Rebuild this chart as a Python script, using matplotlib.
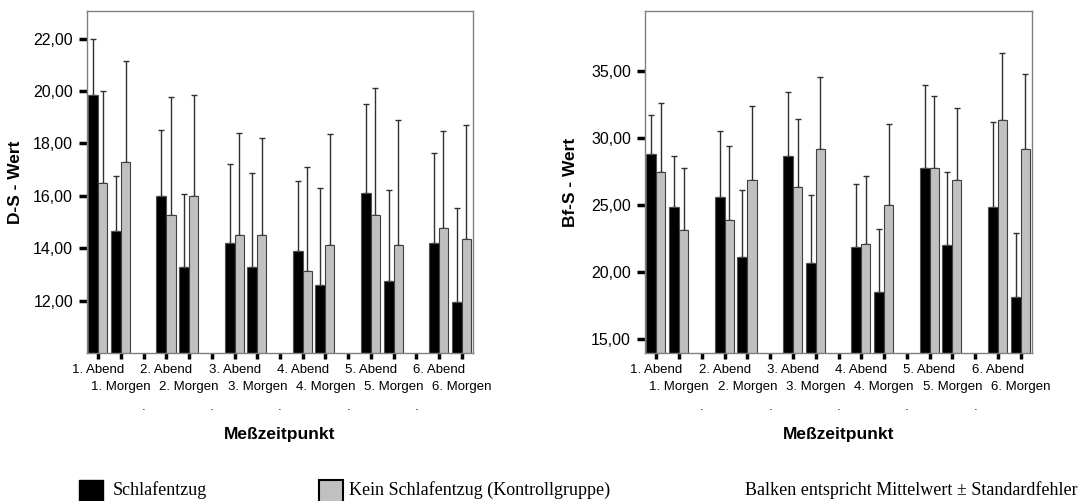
import matplotlib.pyplot as plt
from matplotlib.patches import Rectangle

# Meßzeitpunkte
zeitpunkte = ["1. Abend", "1. Morgen", "2. Abend", "2. Morgen", "3. Abend", "3. Morgen",
              "4. Abend", "4. Morgen", "5. Abend", "5. Morgen", "6. Abend", "6. Morgen"]

# D-S - Wert: Mittelwerte und Standardfehler
ds_schlaf = [19.85, 14.65, 16.0, 13.3, 14.2, 13.3, 13.88, 12.6, 16.12, 12.73, 14.2, 11.96]
ds_schlaf_se = [2.15, 2.12, 2.5, 2.78, 3.03, 3.58, 2.70, 3.70, 3.38, 3.50, 3.45, 3.58]
ds_kontroll = [16.5, 17.27, 15.27, 16.0, 14.5, 14.5, 13.12, 14.12, 15.27, 14.12, 14.77, 14.35]
ds_kontroll_se = [3.5, 3.88, 4.5, 3.85, 3.88, 3.69, 3.96, 4.23, 4.83, 4.76, 3.69, 4.34]

# Bf-S - Wert: Mittelwerte und Standardfehler
bfs_schlaf = [28.83, 24.85, 25.62, 21.14, 28.68, 20.7, 21.84, 18.48, 27.78, 22.0, 24.85, 18.13]
bfs_schlaf_se = [2.87, 3.83, 4.9, 4.96, 4.78, 5.05, 4.7, 4.75, 6.18, 5.49, 6.34, 4.76]
bfs_kontroll = [27.49, 23.13, 23.88, 26.87, 26.37, 29.18, 22.09, 25.0, 27.78, 26.87, 31.32, 29.18]
bfs_kontroll_se = [5.11, 4.65, 5.57, 5.52, 5.05, 5.39, 5.07, 6.04, 5.38, 5.42, 5.05, 5.6]

plt.rcParams['font.family'] = ['Liberation Sans', 'DejaVu Sans']

# nach jedem Tag (Abend + Morgen) eine leere Kategorie
pos = [(j // 2) * 3 + j % 2 for j in range(len(zeitpunkte))]
n_cat = pos[-1] + 1
leer = [k for k in range(n_cat) if k not in pos]

fig = plt.figure(figsize=(10.8, 5.01), dpi=100)
ax1 = fig.add_axes([87 / 1080, 148 / 501, 386 / 1080, 342 / 501])
ax2 = fig.add_axes([645 / 1080, 148 / 501, 387 / 1080, 342 / 501])


def balken(ax, schlaf, schlaf_se, kontroll, kontroll_se, ylim, yticks, ylabel, ylab_x):
    w = 0.44
    xs = [p - w / 2 for p in pos]
    xk = [p + w / 2 - 0.02 for p in pos]
    ax.errorbar(xs, schlaf, yerr=[[0] * len(schlaf), schlaf_se], fmt='none',
                ecolor='#303030', elinewidth=1, capsize=2.5, capthick=1, zorder=1)
    ax.errorbar(xk, kontroll, yerr=[[0] * len(kontroll), kontroll_se], fmt='none',
                ecolor='#303030', elinewidth=1, capsize=2.5, capthick=1, zorder=1)
    ax.bar(xs, schlaf, width=w, color='black', edgecolor='#505050', linewidth=0.8, zorder=2)
    ax.bar(xk, kontroll, width=w - 0.04, color='#c0c0c0', edgecolor='#404040',
           linewidth=0.8, zorder=2)

    ax.set_xlim(-0.5, n_cat - 0.5)
    ax.set_ylim(*ylim)
    ax.set_yticks(yticks)
    ax.set_yticklabels([f"{v:.2f}".replace('.', ',') for v in yticks], fontsize=11.5)
    ax.set_xticks(range(n_cat))
    ax.set_xticklabels([])
    ax.tick_params(axis='y', length=6, width=2.5, color='black', pad=4)
    ax.tick_params(axis='x', length=4, width=2.5, color='black')
    for s in ax.spines.values():
        s.set_color('#808080')
        s.set_linewidth(1)

    for p, lab in zip(pos, zeitpunkte):
        off = -12.2 if 'Abend' in lab else -24.5
        ax.annotate(lab, xy=(p, 0), xycoords=('data', 'axes fraction'),
                    xytext=(0, off), textcoords='offset points',
                    ha='center', va='center', fontsize=9.5)
    for p in leer:
        ax.annotate('.', xy=(p, 0), xycoords=('data', 'axes fraction'),
                    xytext=(0, -39), textcoords='offset points',
                    ha='center', va='center', fontsize=9.5)

    ax.text(0.5, -82 / 342, 'Meßzeitpunkt', transform=ax.transAxes,
            ha='center', va='center', fontsize=12.5, fontweight='bold')
    ax.set_ylabel(ylabel, fontsize=12.5, fontweight='bold')
    ax.yaxis.set_label_coords(ylab_x, 0.5)


balken(ax1, ds_schlaf, ds_schlaf_se, ds_kontroll, ds_kontroll_se,
       (10, 23.05), [12, 14, 16, 18, 20, 22], 'D-S - Wert', -0.166)
balken(ax2, bfs_schlaf, bfs_schlaf_se, bfs_kontroll, bfs_kontroll_se,
       (13.95, 39.5), [15, 20, 25, 30, 35], 'Bf-S - Wert', -0.173)

# Legende unten
fig.add_artist(Rectangle((79 / 1080, -4 / 501), 24 / 1080, 25 / 501,
                         transform=fig.transFigure, facecolor='black',
                         edgecolor='black', linewidth=1))
fig.add_artist(Rectangle((319 / 1080, -4 / 501), 24 / 1080, 25 / 501,
                         transform=fig.transFigure, facecolor='#c0c0c0',
                         edgecolor='black', linewidth=1.5))
serif = ['Liberation Serif', 'DejaVu Serif']
fig.text(113 / 1080, 11 / 501, 'Schlafentzug', family=serif, fontsize=13, va='center')
fig.text(349 / 1080, 11 / 501, 'Kein Schlafentzug (Kontrollgruppe)', family=serif,
         fontsize=13, va='center')
fig.text(1078 / 1080, 11 / 501, 'Balken entspricht Mittelwert ± Standardfehler',
         family=serif, fontsize=13, va='center', ha='right')

fig.savefig('out.png', dpi=100)
